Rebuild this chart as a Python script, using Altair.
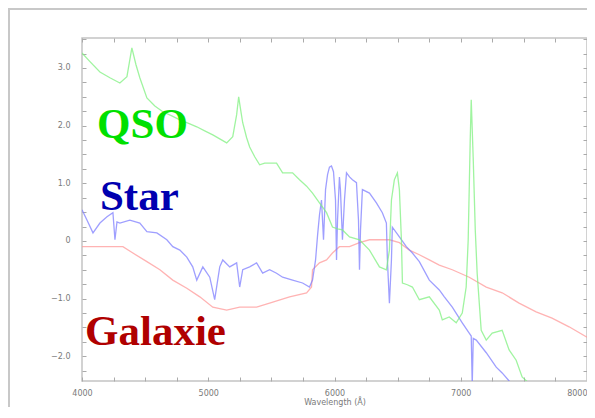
import altair as alt
import pandas as pd

# ---- data ----
qso_lam = [4000, 4063, 4142, 4221, 4300, 4356, 4395, 4427, 4458, 4514, 4577, 4640, 4711, 4775,
           4854, 4909, 4972, 5036, 5091, 5146, 5194, 5225, 5241, 5257, 5273, 5304, 5328, 5368,
           5407, 5447, 5486, 5541, 5589, 5668, 5723, 5779, 5826, 5881, 5937, 5984, 6024, 6063,
           6119, 6198, 6277, 6356, 6411, 6435, 6451, 6474, 6498, 6514, 6530, 6538, 6577, 6617,
           6672, 6751, 6830, 6854, 6909, 6964, 7012, 7043, 7059, 7075, 7083, 7099, 7115, 7130,
           7162, 7202, 7249, 7328, 7383, 7439, 7486, 7541]
qso_flux = [3.26, 3.11, 2.93, 2.83, 2.74, 2.85, 3.35, 3.06, 2.83, 2.48, 2.34, 2.24, 2.17, 2.10,
            2.03, 1.98, 1.91, 1.84, 1.77, 1.70, 1.81, 2.19, 2.50, 2.27, 2.05, 1.79, 1.63, 1.46,
            1.32, 1.35, 1.35, 1.35, 1.18, 1.18, 1.06, 0.95, 0.83, 0.66, 0.49, 0.24, 0.21, 0.19,
            0.07, 0.02, -0.16, -0.45, -0.50, -0.16, 0.71, 1.06, 1.18, 0.89, 0.02, -0.73, -0.76, -0.80,
            -1.02, -0.97, -1.20, -1.37, -1.32, -1.42, -1.25, -0.80, 0.02, 1.75, 2.45, 1.41, 0.19, -0.56,
            -1.55, -1.72, -1.60, -1.55, -1.89, -2.07, -2.36, -2.47]

star_lam = [4000, 4040, 4087, 4142, 4198, 4245, 4261, 4277, 4300, 4379, 4458, 4514, 4593, 4672,
            4719, 4775, 4830, 4877, 4909, 4957, 5012, 5051, 5091, 5115, 5170, 5225, 5249, 5273,
            5328, 5383, 5431, 5486, 5541, 5589, 5668, 5747, 5802, 5826, 5850, 5866, 5881, 5897,
            5913, 5929, 5945, 5960, 5976, 5992, 6008, 6016, 6024, 6039, 6047, 6063, 6079, 6095,
            6119, 6142, 6174, 6190, 6198, 6206, 6221, 6277, 6332, 6379, 6411, 6419, 6435, 6451,
            6458, 6514, 6569, 6617, 6672, 6751, 6830, 6870, 6933, 7012, 7067, 7083, 7091, 7099,
            7123, 7202, 7281, 7328, 7383, 7407]
star_flux = [0.54, 0.36, 0.14, 0.31, 0.42, 0.49, 0.02, 0.33, 0.31, 0.36, 0.31, 0.16, 0.14, 0.02,
             -0.10, -0.16, -0.28, -0.45, -0.68, -0.45, -0.63, -1.02, -0.45, -0.33, -0.45, -0.38, -0.80, -0.50,
             -0.45, -0.38, -0.56, -0.50, -0.56, -0.63, -0.68, -0.73, -0.80, -0.68, -0.33, 0.10, 0.45, 0.71,
             0.02, 0.89, 1.15, 1.28, 1.30, 1.20, 0.71, -0.33, 0.36, 1.11, 0.89, 0.02, 0.71, 1.18,
             1.11, 1.06, 1.01, 0.36, -0.50, 0.19, 0.89, 0.83, 0.66, 0.49, 0.31, -0.33, -1.08, -0.33,
             0.24, 0.07, -0.10, -0.21, -0.36, -0.68, -0.85, -0.97, -1.15, -1.42, -1.60, -1.65, -2.50, -1.69,
             -1.72, -1.94, -2.19, -2.29, -2.43, -2.52]

gal_lam = [4000, 4221, 4324, 4403, 4514, 4617, 4719, 4830, 4933, 5036, 5146, 5249, 5383, 5486,
           5644, 5779, 5818, 5826, 5881, 5937, 5984, 6039, 6119, 6198, 6277, 6356, 6435, 6514,
           6593, 6672, 6751, 6830, 6933, 7067, 7202, 7328, 7462, 7597, 7723, 7858, 8000]
gal_flux = [-0.10, -0.10, -0.10, -0.21, -0.36, -0.50, -0.68, -0.82, -0.97, -1.15, -1.20, -1.15, -1.15, -1.08,
            -0.97, -0.90, -0.80, -0.50, -0.38, -0.33, -0.21, -0.10, -0.10, -0.03, 0.02, 0.02, 0.02, -0.03,
            -0.16, -0.24, -0.33, -0.42, -0.50, -0.63, -0.80, -0.90, -1.08, -1.23, -1.34, -1.49, -1.67]

series_names = ["Galaxie", "Star", "QSO"]
series_colors = ["#ff9a9a", "#7f7fff", "#80f080"]

label_text = ["QSO", "Star", "Galaxie"]
label_lam = [4119, 4142, 4024]
label_flux = [1.79, 0.54, -1.81]
label_color = ["#00e000", "#0000b0", "#b00000"]

x_ticks = [4000, 4250, 4500, 4750, 5000, 5250, 5500, 5750, 6000, 6250, 6500, 6750,
           7000, 7250, 7500, 7750, 8000]
y_ticks = [-2.25, -2.0, -1.75, -1.5, -1.25, -1.0, -0.75, -0.5, -0.25, 0.0, 0.25, 0.5, 0.75,
           1.0, 1.25, 1.5, 1.75, 2.0, 2.25, 2.5, 2.75, 3.0, 3.25, 3.5]

# ---- tables ----
rows = []
for name, lams, fl in [("Galaxie", gal_lam, gal_flux), ("Star", star_lam, star_flux),
                       ("QSO", qso_lam, qso_flux)]:
    for i, (l, f) in enumerate(zip(lams, fl)):
        rows.append({"lam": l, "flux": f, "s": name, "i": i})
df = pd.DataFrame(rows)
labels = pd.DataFrame({"t": label_text, "lam": label_lam, "flux": label_flux, "c": label_color})

xs = alt.Scale(domain=[4000, 8000], nice=False, zero=False)
ys = alt.Scale(domain=[-2.43, 3.52], nice=False, zero=False)

tick_col = "#aaaaaa"
lab_col = "#7a7a7a"

x_bottom = alt.Axis(values=x_ticks, format="d",
                    labelExpr="datum.value % 1000 === 0 ? datum.label : ''",
                    labelFlush=False, labelOverlap=False, labelBound=False,
                    labelAlign={"condition": {"test": "datum.value === 8000", "value": "right"},
                                "value": "center"},
                    tickSize=4, offset=-4, domain=False, grid=False, tickColor=tick_col,
                    labelColor=lab_col, labelFontSize=8, labelPadding=8, labelFont="DejaVu Sans",
                    title="Wavelength (Å)", titleFontSize=8, titleColor=lab_col,
                    titleFontWeight="normal", titlePadding=1, titleFont="DejaVu Sans")
y_left = alt.Axis(values=y_ticks,
                  labelExpr="datum.value % 1 === 0 ? (datum.value === 0 ? '0' : format(datum.value, '.1f')) : ''",
                  labelFlush=False, labelOverlap=False,
                  tickSize=4, offset=-4, domain=False, grid=False, tickColor=tick_col,
                  labelColor=lab_col, labelFontSize=8, labelPadding=12, labelFont="DejaVu Sans",
                  title=None)
x_top = alt.Axis(orient="top", values=x_ticks, labels=False, tickSize=4, offset=-4,
                 domain=False, grid=False, tickColor=tick_col, title=None)
y_right = alt.Axis(orient="right", values=y_ticks, labels=False, tickSize=4, offset=-4,
                   domain=False, grid=False, tickColor=tick_col, title=None)

lines = alt.Chart(df).mark_line(strokeWidth=1.3, opacity=0.75, clip=True).encode(
    x=alt.X("lam:Q", scale=xs, axis=x_bottom),
    y=alt.Y("flux:Q", scale=ys, axis=y_left),
    color=alt.Color("s:N", scale=alt.Scale(domain=series_names, range=series_colors), legend=None),
    order="i:Q",
)

ghost = alt.Chart(df).mark_line(opacity=0).encode(
    x=alt.X("lam:Q", scale=xs, axis=x_top),
    y=alt.Y("flux:Q", scale=ys, axis=y_right),
    detail="s:N",
)

texts = alt.Chart(labels).mark_text(font="Liberation Serif", fontWeight="bold", fontSize=43,
                                    align="left", baseline="alphabetic").encode(
    x=alt.X("lam:Q", scale=xs, axis=None),
    y=alt.Y("flux:Q", scale=ys, axis=None),
    text="t:N",
    color=alt.Color("c:N", scale=None),
)

frame_df = pd.DataFrame({"a": [0]})
frame_left = alt.Chart(frame_df).mark_rule(color="#c8c8c8", strokeWidth=2).encode(
    x=alt.value(-73), y=alt.value(-29), y2=alt.value(372))
frame_top = alt.Chart(frame_df).mark_rule(color="#c8c8c8", strokeWidth=2).encode(
    x=alt.value(-74), x2=alt.value(510), y=alt.value(-29))

chart = alt.layer(lines, ghost, texts, frame_left, frame_top).resolve_axis(
    x="independent", y="independent"
).properties(
    width=505, height=343,
    autosize=alt.AutoSizeParams(type="none"),
    padding={"left": 74, "top": 30, "right": 0, "bottom": 26},
    background="white",
).configure_view(stroke="#c4c4c4", strokeWidth=1.5)

chart.save("out.html", embed_options={"renderer": "svg", "actions": False})
